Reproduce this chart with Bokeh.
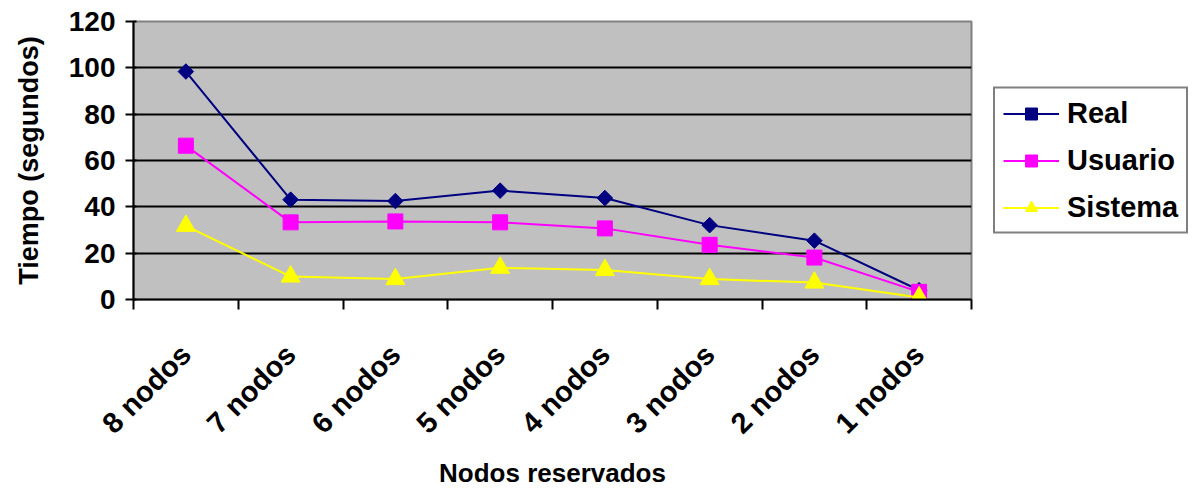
from math import pi

from bokeh.plotting import figure
from bokeh.models import (Range1d, FixedTicker, Legend, LegendItem,
                          ColumnDataSource)
from bokeh.embed import file_html
from bokeh.resources import INLINE

# Execution time by number of reserved nodes
categories = ["8 nodos", "7 nodos", "6 nodos", "5 nodos",
              "4 nodos", "3 nodos", "2 nodos", "1 nodos"]
real = [98.4, 43.1, 42.5, 47.0, 43.8, 32.1, 25.4, 4.0]
usuario = [66.4, 33.3, 33.7, 33.3, 30.7, 23.6, 18.1, 3.3]
sistema = [31.8, 9.9, 8.8, 13.7, 12.7, 8.8, 7.3, 0.9]
y_ticks = [0, 20, 40, 60, 80, 100, 120]

FONT = "Liberation Sans"

# each category occupies one unit slot; points sit in the middle of it
n = len(categories)
slot_centers = [i + 0.5 for i in range(n)]
slot_edges = list(range(n + 1))

src = ColumnDataSource(dict(x=slot_centers, real=real,
                            usuario=usuario, sistema=sistema))

p = figure(
    x_range=Range1d(0, n),
    y_range=Range1d(0, 120),
    frame_width=838, frame_height=278,
    min_border_left=133, min_border_top=21,
    min_border_bottom=190, min_border_right=226,
    output_backend="svg", toolbar_location=None,
)
p.background_fill_color = "#C0C0C0"
p.border_fill_color = "white"
p.outline_line_color = "#808080"
p.outline_line_width = 2

# horizontal grid
p.xgrid.grid_line_color = None
p.ygrid.grid_line_color = "black"
p.ygrid.grid_line_width = 2
p.ygrid.ticker = FixedTicker(ticks=y_ticks)

# y axis
ya = p.yaxis[0]
ya.ticker = FixedTicker(ticks=y_ticks)
ya.axis_label = "Tiempo (segundos)"
ya.axis_line_color = "black"
ya.axis_line_width = 2
ya.major_tick_line_width = 2
ya.major_tick_out = 8
ya.major_tick_in = 3
ya.minor_tick_line_color = None
ya.major_label_standoff = 10
ya.major_label_text_font = FONT
ya.major_label_text_font_style = "bold"
ya.major_label_text_font_size = "28px"
ya.major_label_text_color = "black"
ya.axis_label_text_font = FONT
ya.axis_label_text_font_style = "bold"
ya.axis_label_text_font_size = "27px"
ya.axis_label_text_color = "black"
ya.axis_label_standoff = 22

# x axis: labels centred on each slot, ticks on slot boundaries
xa = p.xaxis[0]
xa.ticker = FixedTicker(ticks=slot_centers, minor_ticks=slot_edges)
xa.major_label_overrides = {c: lab for c, lab in zip(slot_centers, categories)}
xa.axis_label = "Nodos reservados"
xa.axis_line_color = "black"
xa.axis_line_width = 2
xa.major_tick_line_color = None
xa.minor_tick_line_color = "black"
xa.minor_tick_line_width = 2
xa.minor_tick_out = 10
xa.minor_tick_in = 0
xa.major_label_orientation = pi / 4
xa.major_label_standoff = 40
xa.major_label_text_font = FONT
xa.major_label_text_font_style = "bold"
xa.major_label_text_font_size = "29px"
xa.major_label_text_color = "black"
xa.axis_label_text_font = FONT
xa.axis_label_text_font_style = "bold"
xa.axis_label_text_font_size = "26px"
xa.axis_label_text_color = "black"
xa.axis_label_standoff = 4

# series
NAVY, MAGENTA, YELLOW = "#000080", "#FF00FF", "#FFFF00"
l1 = p.line("x", "real", source=src, line_color=NAVY, line_width=2)
s1 = p.scatter("x", "real", source=src, marker="square", angle=pi / 4,
               size=11, fill_color=NAVY, line_color=NAVY)
l2 = p.line("x", "usuario", source=src, line_color=MAGENTA, line_width=2)
s2 = p.scatter("x", "usuario", source=src, marker="square", size=15,
               fill_color=MAGENTA, line_color=MAGENTA)
l3 = p.line("x", "sistema", source=src, line_color=YELLOW, line_width=2)
s3 = p.scatter("x", "sistema", source=src, marker="triangle", size=19,
               fill_color=YELLOW, line_color=YELLOW)

legend = Legend(
    items=[
        LegendItem(label="Real", renderers=[l1, s1]),
        LegendItem(label="Usuario", renderers=[l2, s2]),
        LegendItem(label="Sistema", renderers=[l3, s3]),
    ],
    location="center_left",
    margin=22,
    padding=8,
    spacing=14,
    glyph_width=56,
    glyph_height=30,
    label_height=30,
    label_standoff=8,
    label_text_font=FONT,
    label_text_font_style="bold",
    label_text_font_size="29px",
    label_text_color="black",
    border_line_color="black",
    border_line_width=2,
    background_fill_color="white",
    background_fill_alpha=1,
)
p.add_layout(legend, "right")

open("out.html", "w").write(file_html(p, INLINE))
